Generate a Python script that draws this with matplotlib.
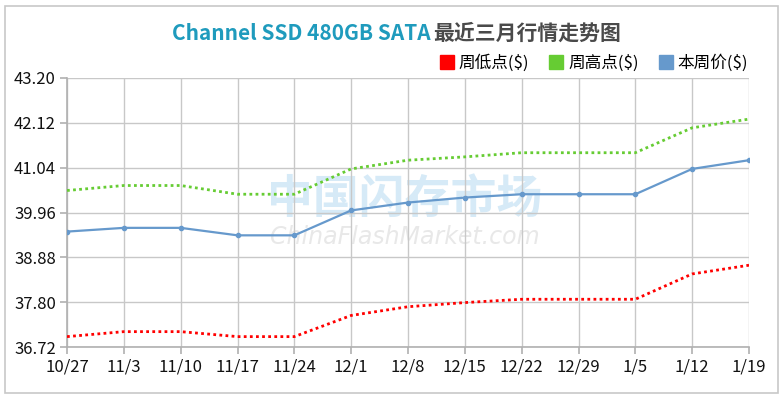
import matplotlib
matplotlib.use('Agg')
import matplotlib.pyplot as plt
from matplotlib.lines import Line2D
from matplotlib.patches import Rectangle

plt.rcParams['font.family'] = ['Noto Sans CJK SC', 'DejaVu Sans']

# weekly dates and prices in US dollars
weeks = ['10/27', '11/3', '11/10', '11/17', '11/24', '12/1', '12/8',
         '12/15', '12/22', '12/29', '1/5', '1/12', '1/19']
low = [36.97, 37.09, 37.09, 36.97, 36.97, 37.48, 37.69,
       37.79, 37.87, 37.87, 37.87, 38.48, 38.69]
high = [40.49, 40.61, 40.61, 40.40, 40.40, 41.01, 41.22,
        41.30, 41.40, 41.40, 41.40, 42.00, 42.21]
price = [39.50, 39.59, 39.59, 39.41, 39.41, 40.01, 40.20,
         40.32, 40.40, 40.40, 40.40, 41.01, 41.22]
yticks = [36.72, 37.80, 38.88, 39.96, 41.04, 42.12, 43.20]

c_low = '#ff0000'
c_high = '#66cc33'
c_price = '#6699cc'
grid_c = '#c8c8c8'

fig = plt.figure(figsize=(7.84, 3.99), dpi=100)
fig.patches.append(Rectangle((5/784, 6/399), 773/784, 387/399,
                             transform=fig.transFigure, fill=False,
                             edgecolor='#c8c8c8', linewidth=1.2))

ax = fig.add_axes([67/784, 52/399, 682/784, 269/399])
x = list(range(len(weeks)))

ax.plot(x, low, color=c_low, linestyle=(0, (1, 1.2)), linewidth=2.0, zorder=3)
ax.plot(x, high, color=c_high, linestyle=(0, (1, 1.2)), linewidth=2.0, zorder=3)
ax.plot(x, price, color=c_price, linewidth=1.6, marker='o', markersize=3,
        zorder=4)

ax.set_xlim(0, len(weeks) - 1)
ax.set_ylim(yticks[0], yticks[-1])
ax.set_xticks(x)
ax.set_xticklabels(weeks)
ax.set_yticks(yticks)
ax.set_yticklabels(['%.2f' % v for v in yticks])
ax.grid(True, color=grid_c, linewidth=1.0, zorder=0)
for s in ['top', 'right']:
    ax.spines[s].set_visible(False)
for s in ['left', 'bottom']:
    ax.spines[s].set_color('#b0b0b0')
    ax.spines[s].set_linewidth(1.2)
ax.tick_params(axis='both', colors='#b0b0b0', labelcolor='#111111',
               labelsize=12, length=5, width=1.2)
ax.tick_params(axis='x', pad=3)
ax.tick_params(axis='y', pad=3)

# watermark
ax.text(0.495, 0.545, '中国闪存市场', transform=ax.transAxes, ha='center',
        va='center', fontsize=33, color='#d6eaf7', fontweight='bold', zorder=1)
ax.text(0.495, 0.41, 'ChinaFlashMarket.com', transform=ax.transAxes,
        ha='center', va='center', fontsize=17, color='#e8e8e8',
        family=['DejaVu Sans'], style='italic', zorder=1)

# title in two colours
fig.text(0.549, 0.917, 'Channel SSD 480GB SATA', ha='right', va='center',
         fontsize=15, fontweight='bold', color='#1f9bbd')
fig.text(0.553, 0.917, '最近三月行情走势图', ha='left', va='center',
         fontsize=15, fontweight='bold', color='#4a4a4a')

handles = [Line2D([], [], linestyle='none', marker='s', markersize=10,
                  color=c) for c in (c_low, c_high, c_price)]
fig.legend(handles, ['周低点($)', '周高点($)', '本周价($)'], ncol=3,
           loc='center right', bbox_to_anchor=(0.963, 0.843), frameon=False,
           fontsize=12, handlelength=0.8, handletextpad=0.3,
           columnspacing=1.25, borderaxespad=0)

fig.savefig('out.png', dpi=100)
